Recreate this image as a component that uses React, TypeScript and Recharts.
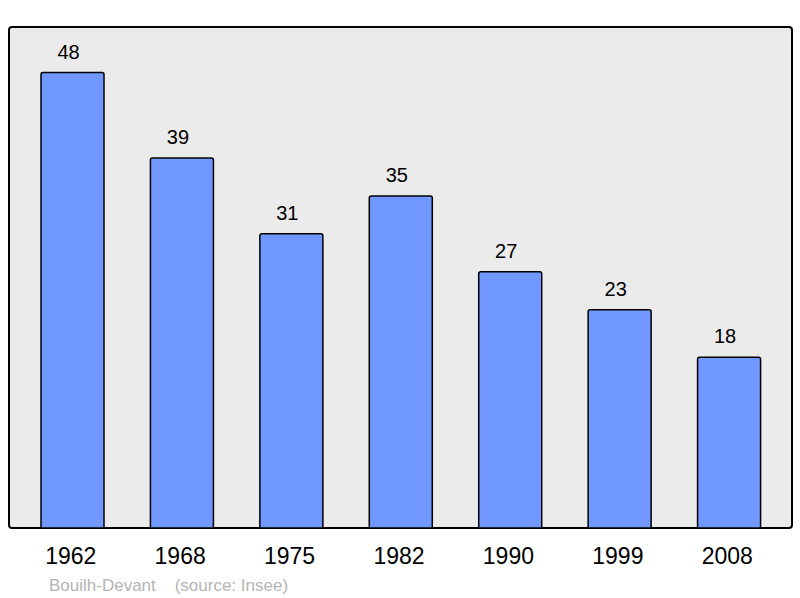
import React from "react";
import * as R from "recharts";
import { BarChart, Bar, XAxis, YAxis, LabelList } from "recharts";

const years = ["1962", "1968", "1975", "1982", "1990", "1999", "2008"];
const population = [48, 39, 31, 35, 27, 23, 18];
const commune = "Bouilh-Devant";
const source = "(source: Insee)";

const data = years.map((y, i) => ({ year: y, pop: population[i] }));

const FONT = "'Liberation Sans', Arial, Helvetica, sans-serif";

function Frame() {
  const usePlotArea = (R as any).usePlotArea;
  const area = usePlotArea ? usePlotArea() : null;
  if (!area) return null;
  return (
    <rect
      x={area.x}
      y={area.y}
      width={area.width}
      height={area.height}
      rx={3}
      ry={3}
      fill="none"
      stroke="#000"
      strokeWidth={2}
    />
  );
}

function Background() {
  const usePlotArea = (R as any).usePlotArea;
  const area = usePlotArea ? usePlotArea() : null;
  if (!area) return null;
  return (
    <rect
      x={area.x}
      y={area.y}
      width={area.width}
      height={area.height}
      rx={3}
      ry={3}
      fill="#ebebeb"
    />
  );
}

export default function App() {
  return (
    <div style={{ position: "absolute", left: 0, top: 0, width: 800, height: 598, background: "#fff" }}>
      <BarChart
        width={800}
        height={598}
        data={data}
        margin={{ top: 27, right: 8, bottom: 40, left: 9 }}
        barSize={63}
      >
        <Background />
        <XAxis
          dataKey="year"
          axisLine={false}
          tickLine={false}
          padding={{ left: 9, right: 8 }}
          tickMargin={14}
          tick={{ fill: "#000", fontSize: 23, fontFamily: FONT, dx: -2 }}
          interval={0}
        />
        <YAxis hide domain={[0, 52.8]} />
        <Bar
          dataKey="pop"
          fill="#7198ff"
          stroke="#000"
          strokeWidth={1.5}
          radius={[2, 2, 0, 0]}
          isAnimationActive={false}
        >
          <LabelList
            dataKey="pop"
            position="top"
            offset={14}
            dx={-4}
            fill="#000"
            fontSize={20}
            fontFamily={FONT}
          />
        </Bar>
        <Frame />
      </BarChart>
      <div
        style={{
          position: "absolute",
          left: 49,
          top: 576,
          fontFamily: FONT,
          fontSize: 17,
          color: "#b4b4b4",
          whiteSpace: "pre",
        }}
      >
        {commune + "    " + source}
      </div>
    </div>
  );
}
